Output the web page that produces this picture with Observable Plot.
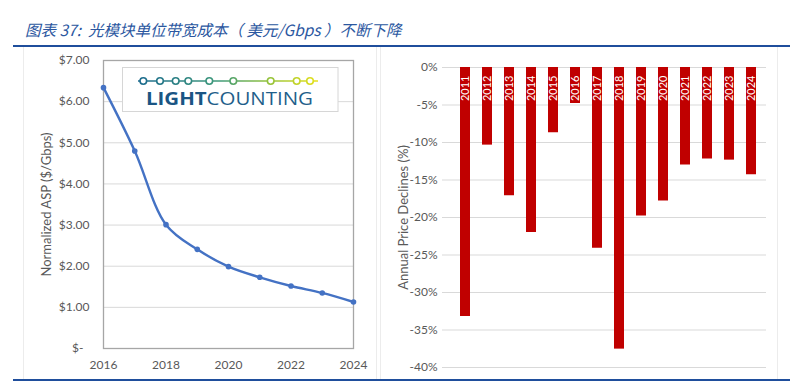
<!DOCTYPE html>
<html>
<head>
<meta charset="utf-8">
<script src="https://cdn.jsdelivr.net/npm/d3@7"></script>
<script src="https://cdn.jsdelivr.net/npm/@observablehq/plot@0.6"></script>
<style>
  html, body { margin: 0; padding: 0; background: #fff; }
  #page { position: relative; width: 797px; height: 382px; overflow: hidden; background: #fff; }
  #title { position: absolute; left: 25px; top: 18px; font-family: "Noto Sans CJK SC", "DejaVu Sans", sans-serif; font-style: italic; font-size: 15.5px; color: #2b579f; white-space: pre; line-height: 22px; }
  .rule { position: absolute; left: 13px; width: 777px; height: 2px; background: #1f4e9c; }
  .box { position: absolute; border: 1px solid #ececec; box-sizing: border-box; }
  #left, #right, #logo { position: absolute; }
</style>
</head>
<body>
<div id="page">
  <div id="title">图表 37:  光模块单位带宽成本（ 美元/Gbps ）不断下降</div>
  <div class="rule" style="top:45px"></div>
  <div class="box" style="left:23px; top:47px; width:354px; height:333px; border-top:none; border-bottom:none;"></div>
  <div class="box" style="left:380px; top:47px; width:398px; height:333px; border-top:none; border-bottom:none;"></div>
  <div id="left" style="left:23px; top:47px;"></div>
  <div id="right" style="left:380px; top:47px;"></div>
  <svg id="logo" width="797" height="382" style="left:0; top:0; pointer-events:none;">
    <defs>
      <linearGradient id="lg" x1="138" x2="318" y1="0" y2="0" gradientUnits="userSpaceOnUse">
        <stop offset="0" stop-color="#1b6a8e"/>
        <stop offset="0.45" stop-color="#3f9a7a"/>
        <stop offset="0.7" stop-color="#8cbf3f"/>
        <stop offset="1" stop-color="#e6e11c"/>
      </linearGradient>
    </defs>
    <rect x="122.5" y="67.5" width="215.5" height="44" fill="#fff" stroke="#d6d6d6" stroke-width="1"/>
    <line x1="138" x2="318" y1="81" y2="81" stroke="url(#lg)" stroke-width="1.6"/>
    <g fill="#fff" stroke="url(#lg)" stroke-width="1.6">
      <circle cx="143.3" cy="81" r="3.3"/><circle cx="160" cy="81" r="3.3"/><circle cx="175.7" cy="81" r="3.3"/>
      <circle cx="188.3" cy="81" r="3.3"/><circle cx="209.3" cy="81" r="3.3"/><circle cx="233.3" cy="81" r="3.3"/>
      <circle cx="270.7" cy="81" r="3.3"/><circle cx="296.7" cy="81" r="3.3"/><circle cx="310" cy="81" r="3.3"/>
    </g>
    <text x="146" y="105" font-family="'Open Sans', 'Noto Sans', sans-serif" font-size="18.5" fill="#1f5f8b" textLength="167" lengthAdjust="spacingAndGlyphs"><tspan font-weight="bold" fill="#1a5584">LIGHT</tspan><tspan>COUNTING</tspan></text>
  </svg>
  <div class="rule" style="top:379px"></div>
</div>
<script>
// Left chart: normalized ASP ($/Gbps)
const aspYears = [2016, 2017, 2018, 2019, 2020, 2021, 2022, 2023, 2024];
const aspValues = [6.34, 4.80, 3.01, 2.41, 1.99, 1.73, 1.52, 1.35, 1.13];
const aspXTicks = [2016, 2018, 2020, 2022, 2024];
const aspYTicks = [0, 1, 2, 3, 4, 5, 6, 7];
const aspLabel = "Normalized ASP ($/Gbps)";

// Right chart: annual price declines (%)
const declineYears = [2011, 2012, 2013, 2014, 2015, 2016, 2017, 2018, 2019, 2020, 2021, 2022, 2023, 2024];
const declineValues = [-33.2, -10.35, -17.1, -22.0, -8.7, -4.8, -24.1, -37.55, -19.8, -17.8, -13.0, -12.2, -12.35, -14.3];
const declineYTicks = [0, -5, -10, -15, -20, -25, -30, -35, -40];
const declineLabel = "Annual Price Declines (%)";

const aspData = aspYears.map((year, i) => ({year, asp: aspValues[i]}));
const declineData = declineYears.map((year, i) => ({year, decline: declineValues[i]}));

const axisColor = "#595959";
const font = "Lato, 'Open Sans', sans-serif";

const left = Plot.plot({
  width: 354,
  height: 333,
  marginLeft: 80,
  marginRight: 24,
  marginTop: 13,
  marginBottom: 32,
  style: {fontFamily: font, fontSize: "12px", color: axisColor, background: "transparent"},
  x: {domain: [2016, 2024], ticks: aspXTicks, tickFormat: d => String(d), tickSize: 0, tickPadding: 12, label: null, line: false},
  y: {domain: [0, 7], ticks: aspYTicks, tickFormat: d => d === 0 ? "$-\u2002" : "$" + d.toFixed(2), tickSize: 0, tickPadding: 14, label: null},
  marks: [
    Plot.gridY(aspYTicks.filter(d => d > 0 && d < 7), {stroke: "#d9d9d9", strokeOpacity: 1}),
    Plot.frame({stroke: "#a6a6a6", strokeWidth: 1.3}),
    Plot.line(aspData, {x: "year", y: "asp", stroke: "#4472c4", strokeWidth: 2.4, curve: "catmull-rom"}),
    Plot.dot(aspData, {x: "year", y: "asp", r: 2.8, fill: "#4472c4"}),
    Plot.text([aspLabel], {text: d => d, frameAnchor: "left", textAnchor: "middle", rotate: -90, dx: -57, fontSize: 13, fill: axisColor})
  ]
});
document.getElementById("left").appendChild(left);

const right = Plot.plot({
  width: 398,
  height: 333,
  marginLeft: 62,
  marginRight: 12,
  marginTop: 20,
  marginBottom: 13,
  style: {fontFamily: font, fontSize: "12px", color: axisColor, background: "transparent"},
  x: {type: "band", domain: declineYears, range: [71.5, 385.2], paddingInner: 0.54, paddingOuter: 0.27, axis: null},
  y: {domain: [-40, 0], ticks: declineYTicks, tickFormat: d => d + "%", tickSize: 0, tickPadding: 5, label: null},
  marks: [
    Plot.gridY(declineYTicks, {stroke: "#d9d9d9", strokeOpacity: 1}),
    Plot.barY(declineData, {x: "year", y1: 0, y2: "decline", fill: "#c00000"}),
    Plot.text(declineData, {x: "year", y: 0, text: d => String(d.year), rotate: -90, textAnchor: "end", lineAnchor: "middle", dy: 8, fill: "white", fontSize: 11}),
    Plot.text([declineLabel], {text: d => d, frameAnchor: "left", textAnchor: "middle", rotate: -90, dx: -39, fontSize: 13, fill: axisColor})
  ]
});
document.getElementById("right").appendChild(right);
</script>
</body>
</html>
